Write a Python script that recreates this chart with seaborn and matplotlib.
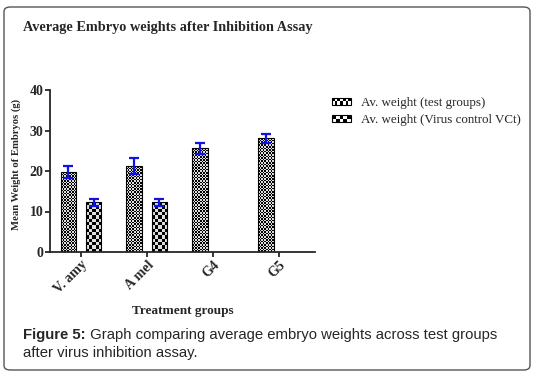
import numpy as np
import pandas as pd
import matplotlib
matplotlib.use('Agg')
import matplotlib.pyplot as plt
import seaborn as sns
from matplotlib.patches import Rectangle, FancyBboxPatch
from matplotlib.legend_handler import HandlerBase

# values
groups = ['V. amy', 'A mel', 'G4', 'G5']
series = ['Av. weight (test groups)', 'Av. weight (Virus control VCt)']
test_means = [19.7, 21.2, 25.6, 28.1]
test_err = [1.5, 2.0, 1.3, 1.1]
vc_means = [12.3, 12.3, np.nan, np.nan]
vc_err = [0.9, 0.9, np.nan, np.nan]
y_ticks = [0, 10, 20, 30, 40]

df = pd.DataFrame({
    'group': groups * 2,
    'series': [series[0]] * len(groups) + [series[1]] * len(groups),
    'weight': test_means + vc_means,
})
errors = {series[0]: test_err, series[1]: vc_err}
cell_sizes = {series[0]: 1.6, series[1]: 3.3}   # checker cell size in px

sns.set_style('ticks')
plt.rcParams['font.family'] = ['Liberation Serif', 'DejaVu Serif']

W, H = 536, 377
fig = plt.figure(figsize=(W / 100, H / 100), dpi=100)
ax = fig.add_axes([50 / W, 1 - 252 / H, 265 / W, 162 / H])

sns.barplot(data=df, x='group', y='weight', hue='series', order=groups,
            hue_order=series, width=0.76, gap=0.37, errorbar=None,
            palette=['white', 'white'], edgecolor='black',
            linewidth=0.8, legend=False, ax=ax)

ax.set_xlim(-0.47, 3.55)
ax.set_ylim(0, 40)
ax.set_yticks(y_ticks)


def checker_fill(ax, rect, cell_px):
    x, y, w, h = rect.get_x(), rect.get_y(), rect.get_width(), rect.get_height()
    (x0, y0), (x1, y1) = ax.transData.transform([(x, y), (x + w, y + h)])
    ncol = max(1, int(round((x1 - x0) / cell_px)))
    nrow = max(1, int(round((y1 - y0) / cell_px)))
    img = np.indices((nrow, ncol)).sum(axis=0) % 2
    im = ax.imshow(img, cmap='gray', vmin=0, vmax=1.15, extent=(x, x + w, y, y + h),
                   origin='lower', interpolation='nearest', aspect='auto', zorder=1)
    im.set_clip_path(rect)
    rect.set_facecolor('none')
    rect.set_zorder(2)


for name, cont in zip(series, ax.containers):
    for rect in cont:
        h = rect.get_height()
        if not np.isfinite(h) or h == 0:
            continue
        checker_fill(ax, rect, cell_sizes[name])
        xc = rect.get_x() + rect.get_width() / 2
        gi = int(round(xc))
        ax.errorbar(xc, h, yerr=errors[name][gi], color='#1010e8', capsize=3.6,
                    elinewidth=1.6, capthick=1.6, zorder=3)

ax.set_xlim(-0.47, 3.55)
ax.set_ylim(0, 40)

sns.despine(ax=ax)
for s in ['left', 'bottom']:
    ax.spines[s].set_linewidth(1.3)
ax.tick_params(width=1.3, length=3.5, labelsize=10, pad=1)
for lab in ax.get_yticklabels():
    lab.set_fontweight('bold')
ax.set_xticks(range(len(groups)))
ax.set_xticklabels(groups, rotation=45, ha='right', rotation_mode='anchor',
                   fontweight='bold', fontsize=10)
ax.set_xlabel('Treatment groups', fontweight='bold', fontsize=9.5, labelpad=6)
ax.set_ylabel('Mean Weight of Embryos (g)', fontweight='bold', fontsize=7.7)
ax.yaxis.set_label_coords(-0.11, 0.54)


class CheckerHandler(HandlerBase):
    def __init__(self, ncol, nrow):
        super().__init__()
        self.ncol, self.nrow = ncol, nrow

    def create_artists(self, legend, orig_handle, xdescent, ydescent, width,
                       height, fontsize, trans):
        arts = []
        cw, ch = width / self.ncol, height / self.nrow
        for i in range(self.nrow):
            for j in range(self.ncol):
                c = 'black' if (i + j) % 2 else 'white'
                arts.append(Rectangle((-xdescent + j * cw, -ydescent + i * ch), cw, ch,
                                      facecolor=c, edgecolor='none', transform=trans))
        arts.append(Rectangle((-xdescent, -ydescent), width, height, fill=False,
                              edgecolor='black', lw=0.8, transform=trans))
        return arts


h1 = Rectangle((0, 0), 1, 1)
h2 = Rectangle((0, 0), 1, 1)
fig.legend([h1, h2], series, loc='upper left',
           bbox_to_anchor=(332 / W, 1 - 97 / H), frameon=False, fontsize=9.4,
           borderpad=0, borderaxespad=0, handlelength=1.45, handleheight=0.4,
           handletextpad=0.8, labelspacing=0.4,
           handler_map={h1: CheckerHandler(7, 2), h2: CheckerHandler(5, 2)})

fig.text(23 / W, 1 - 28 / H, 'Average Embryo weights after Inhibition Assay',
         fontweight='bold', fontsize=10.3, va='center', ha='left')

bold = fig.text(23 / W, 1 - 335 / H, 'Figure 5:', family='Liberation Sans',
                fontweight='bold', fontsize=10.7, va='center', ha='left')
ax.annotate(' Graph comparing average embryo weights across test groups',
            xy=(1, 0.5), xycoords=bold, va='center', ha='left',
            family='Liberation Sans', fontsize=10.7, annotation_clip=False)
fig.text(23 / W, 1 - 353 / H, 'after virus inhibition assay.',
         family='Liberation Sans', fontsize=10.7, va='center', ha='left')

frame = FancyBboxPatch((4 / W, 1 - 370 / H), 526 / W, 363 / H,
                       boxstyle='round,pad=0,rounding_size=0.012',
                       transform=fig.transFigure, fill=False,
                       edgecolor='#555555', lw=1.0)
fig.patches.append(frame)

fig.savefig('out.png', dpi=100)
